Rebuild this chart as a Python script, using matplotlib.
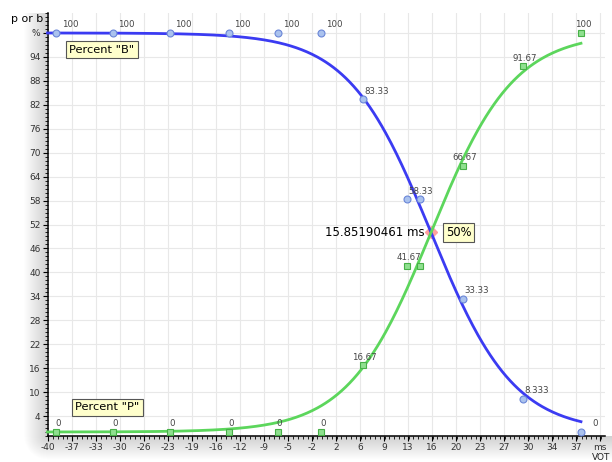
import numpy as np
import matplotlib.pyplot as plt
from matplotlib.ticker import FixedLocator, MultipleLocator

# VOT continuum (ms) and identification percentages
vot = [-38.7, -30.5, -22.2, -13.6, -6.5, -0.2, 5.9, 12.3, 14.2, 20.5, 29.2, 37.7]
pct_b = [100, 100, 100, 100, 100, 100, 83.33, 58.33, 58.33, 33.33, 8.333, 0]
pct_p = [0, 0, 0, 0, 0, 0, 16.67, 41.67, 41.67, 66.67, 91.67, 100]
b_labels = ['100', '100', '100', '100', '100', '100', '83.33', '58.33', '', '33.33', '8.333', '0']
p_labels = ['0', '0', '0', '0', '0', '0', '16.67', '41.67', '', '66.67', '91.67', '100']

# logistic fit: category boundary and slope
boundary_ms = 15.85190461
boundary_pct = 50
fit_slope = 0.166

x_ticks = [-40 + 3.5 * k for k in range(24)]
x_tick_labels = ['-40', '-37', '-33', '-30', '-26', '-23', '-19', '-16', '-12', '-9',
                 '-5', '-2', '2', '6', '9', '13', '16', '20', '23', '27', '30', '34',
                 '37', 'ms']
y_ticks = list(range(4, 101, 6))
y_tick_labels = [str(v) for v in range(4, 95, 6)] + ['%']

W, H = 612, 462
fig = plt.figure(figsize=(W / 100, H / 100), dpi=100)

# soft shadow along the left and bottom axis
left_px, bottom_px, top_px, right_px = 47.5, 436, 13, 605
bg = fig.add_axes([0, 0, 1, 1], zorder=-1)
bg.axis('off')
yy, xx = np.mgrid[0:H, 0:W] + 0.5
dx = np.clip(left_px - xx, 0, None)
dy = np.clip(yy - bottom_px, 0, None)
dist = np.hypot(dx, dy)
shade = np.clip(1 - dist / 24, 0, 1) * 0.19
shade[yy < top_px] = 0
shade[(dx == 0) & (dy == 0)] = 0
rgba = np.zeros((H, W, 4))
rgba[..., 3] = shade
bg.imshow(rgba, extent=[0, W, H, 0], aspect='auto')
bg.set_xlim(0, W)
bg.set_ylim(H, 0)

ax = fig.add_axes([left_px / W, 1 - bottom_px / H,
                   (right_px - left_px) / W, (bottom_px - top_px) / H])
ax.set_xlim(-40, 41.2)
ax.set_ylim(-1, 105)

ax.xaxis.set_major_locator(FixedLocator(x_ticks))
ax.set_xticklabels(x_tick_labels)
ax.xaxis.set_minor_locator(MultipleLocator(0.7))
ax.yaxis.set_major_locator(FixedLocator(y_ticks))
ax.set_yticklabels(y_tick_labels)
ax.yaxis.set_minor_locator(MultipleLocator(1))
ax.tick_params(which='major', length=3.5, width=0.8, color='black',
               labelsize=6.5, labelcolor='#333333', pad=1.5)
ax.tick_params(which='minor', length=2, width=0.6, color='black')
ax.grid(True, which='major', color='#e8e8e8', lw=0.8)
ax.set_axisbelow(True)
for side in ['top', 'right']:
    ax.spines[side].set_visible(False)
for side in ['left', 'bottom']:
    ax.spines[side].set_linewidth(1.1)

# fitted identification curves
xs = np.linspace(-40, vot[-1], 400)
fit_b = 100 / (1 + np.exp(fit_slope * (xs - boundary_ms)))
fit_p = 100 - fit_b

ax.plot(boundary_ms, boundary_pct, marker='D', ms=6, color='#ff9f9f', zorder=2)
ax.plot(xs, fit_b, color='#3b3bf2', lw=2, zorder=3, clip_on=False)
ax.plot(xs, fit_p, color='#5cd65c', lw=2, zorder=3, clip_on=False)
ax.plot(vot, pct_b, ls='none', marker='o', ms=5, mfc='#aac2ee', mec='#6a86d8',
        mew=0.8, zorder=4, clip_on=False)
ax.plot(vot, pct_p, ls='none', marker='s', ms=4.8, mfc='#8fe08f', mec='#47b047',
        mew=0.8, zorder=4, clip_on=False)

for x, y, lab in zip(vot, pct_b, b_labels):
    if lab:
        ax.annotate(lab, (x, y), xytext=(10, 5.8), textcoords='offset points',
                    ha='center', va='center', fontsize=6.2, color='#444444')
for x, y, lab in zip(vot, pct_p, p_labels):
    if lab:
        ax.annotate(lab, (x, y), xytext=(1.5, 5.8), textcoords='offset points',
                    ha='center', va='center', fontsize=6.2, color='#444444')

ax.annotate('%.8f ms' % boundary_ms, (boundary_ms, boundary_pct), xytext=(-4.5, 0),
            textcoords='offset points', ha='right', va='center', fontsize=8.5,
            color='black')
ax.annotate('%d%%' % boundary_pct, (boundary_ms, boundary_pct), xytext=(20, 0),
            textcoords='offset points', ha='center', va='center', fontsize=8.3,
            color='black',
            bbox=dict(boxstyle='square,pad=0.25', fc='#ffffcc', ec='#555555', lw=0.8))

# series name tags
box = dict(boxstyle='square,pad=0.3', fc='#ffffcc', ec='#555555', lw=0.8)
fig.text(101.8 / W, 1 - 49.8 / H, 'Percent "B"', ha='center', va='center',
         fontsize=8.2, color='black', bbox=box)
fig.text(107.5 / W, 1 - 407.5 / H, 'Percent "P"', ha='center', va='center',
         fontsize=8.2, color='black', bbox=box)

# axis titles
fig.text(27.5 / W, 1 - 18.5 / H, 'p or b', ha='center', va='center',
         fontsize=7.8, color='black')
fig.text(601.5 / W, 1 - 458 / H, 'VOT', ha='center', va='center',
         fontsize=6.5, color='#222222')

fig.savefig('out.png', dpi=100)
